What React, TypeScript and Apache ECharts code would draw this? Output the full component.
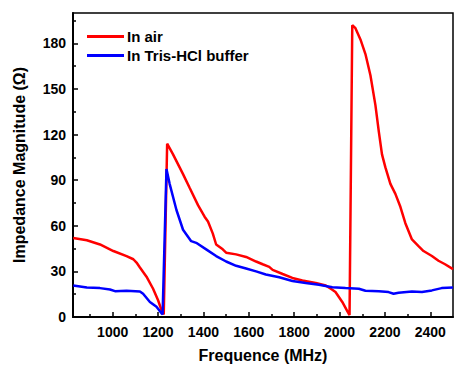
import React, { useEffect, useRef } from "react";
import * as echarts from "echarts";

const xMajorTicks = [1000, 1200, 1400, 1600, 1800, 2000, 2200, 2400];
const xMinorTicks = [900, 1100, 1300, 1500, 1700, 1900, 2100, 2300];
const yMinorTicks = [15, 45, 75, 105, 135, 165, 195];

const airFreq = [826, 886, 944, 1003, 1061, 1091, 1105, 1120, 1149, 1178, 1200, 1215, 1225, 1240, 1266, 1310, 1339, 1376, 1405, 1420, 1441, 1456, 1485, 1500, 1544, 1588, 1632, 1661, 1690, 1705, 1749, 1792, 1836, 1895, 1939, 1968, 1982, 2012, 2034, 2044, 2056, 2070, 2092, 2114, 2136, 2158, 2173, 2187, 2202, 2224, 2246, 2268, 2290, 2319, 2348, 2370, 2407, 2436, 2465, 2500];
const airImp = [52, 50.5, 47.7, 43.4, 40, 38, 35.8, 32.6, 26.5, 18.6, 11, 4.5, 1.7, 114, 107, 94, 85, 73.6, 66, 62.8, 55, 47.7, 44.5, 42.3, 41.2, 39.5, 36.5, 34.7, 33, 31, 28.3, 25.7, 24, 22.4, 20.7, 17.9, 16.4, 9.9, 3.9, 1.3, 192, 190, 182.6, 173, 159, 139.4, 122, 107, 98.4, 87.6, 81, 72.5, 61.7, 51, 46.6, 43.4, 40.1, 37, 34.7, 31.5];

const bufFreq = [826, 886, 944, 988, 1010, 1061, 1120, 1134, 1164, 1193, 1215, 1220, 1237, 1251, 1281, 1310, 1346, 1368, 1412, 1456, 1500, 1544, 1588, 1632, 1675, 1734, 1792, 1851, 1909, 1968, 2026, 2085, 2114, 2173, 2216, 2238, 2260, 2319, 2363, 2407, 2450, 2500];
const bufImp = [20.7, 19.4, 19, 18.1, 17, 17.3, 16.8, 15.3, 9.9, 6.7, 2.4, 1.9, 97.3, 87.6, 70.4, 57.4, 49.9, 48.8, 44.5, 40.1, 36.5, 33.7, 31.9, 30, 28, 26.1, 23.7, 22.4, 21.2, 19.6, 19, 18.6, 17.3, 17, 16.4, 15.3, 16, 16.8, 16.4, 17.5, 19, 19.4];

const FONT = "'Liberation Sans', Arial, sans-serif";

export default function App() {
  const ref = useRef<HTMLDivElement>(null);
  useEffect(() => {
    if (!ref.current) return;
    const chart = echarts.init(ref.current, undefined, { renderer: "svg" });
    const tickLabel = { color: "#000", fontWeight: "bold" as const, fontSize: 14, fontFamily: FONT };
    const tickStyle = { color: "#000", width: 1.5 };
    chart.setOption({
      animation: false,
      backgroundColor: "#fff",
      grid: { left: 73, top: 13, right: 1, bottom: 46, show: true, borderColor: "#000", borderWidth: 1.5, backgroundColor: "transparent" },
      legend: {
        orient: "vertical",
        left: 82,
        top: 24,
        icon: "rect",
        itemWidth: 37,
        itemHeight: 3,
        itemGap: 4,
        textStyle: { color: "#000", fontWeight: "bold", fontSize: 15, fontFamily: FONT, padding: [0, 0, 0, -2] },
        data: ["In air", "In Tris-HCl buffer"],
      },
      xAxis: [
        {
          type: "value",
          min: 825,
          max: 2500,
          position: "bottom",
          axisLine: { show: true, lineStyle: { color: "#000", width: 2 } },
          axisTick: { show: true, inside: true, length: 5, lineStyle: tickStyle, customValues: xMajorTicks },
          axisLabel: { ...tickLabel, margin: 8, customValues: xMajorTicks, formatter: (v: number) => String(v) },
          splitLine: { show: false },
          name: "Frequence (MHz)",
          nameLocation: "middle",
          nameGap: 30,
          nameTextStyle: { color: "#000", fontWeight: "bold", fontSize: 16, fontFamily: FONT },
        },
        {
          type: "value",
          min: 825,
          max: 2500,
          position: "bottom",
          axisLine: { show: false },
          axisTick: { show: true, inside: true, length: 3, lineStyle: tickStyle, customValues: xMinorTicks },
          axisLabel: { show: false },
          splitLine: { show: false },
        },
      ],
      yAxis: [
        {
          type: "value",
          min: 0,
          max: 200,
          interval: 30,
          axisLine: { show: true, lineStyle: { color: "#000", width: 2 } },
          axisTick: { show: true, inside: true, length: 5, lineStyle: tickStyle },
          axisLabel: { ...tickLabel, margin: 7, showMaxLabel: false, formatter: (v: number) => (v > 180 ? "" : String(v)) },
          splitLine: { show: false },
          name: "Impedance Magnitude (Ω)",
          nameLocation: "middle",
          nameGap: 46,
          nameTextStyle: { color: "#000", fontWeight: "bold", fontSize: 16, fontFamily: FONT },
        },
        {
          type: "value",
          min: 0,
          max: 200,
          position: "left",
          axisLine: { show: false },
          axisTick: { show: true, inside: true, length: 3, lineStyle: tickStyle, customValues: yMinorTicks },
          axisLabel: { show: false },
          splitLine: { show: false },
        },
      ],
      series: [
        {
          name: "In air",
          type: "line",
          xAxisIndex: 0,
          yAxisIndex: 0,
          symbol: "none",
          data: airFreq.map((f, i) => [f, airImp[i]]),
          lineStyle: { color: "#ff0000", width: 2.5 },
          itemStyle: { color: "#ff0000" },
          z: 2,
        },
        {
          name: "In Tris-HCl buffer",
          type: "line",
          xAxisIndex: 0,
          yAxisIndex: 0,
          symbol: "none",
          data: bufFreq.map((f, i) => [f, bufImp[i]]),
          lineStyle: { color: "#0000ff", width: 2.5 },
          itemStyle: { color: "#0000ff" },
          z: 3,
        },
      ],
    });
    return () => chart.dispose();
  }, []);
  return <div ref={ref} style={{ width: 454, height: 368, position: "absolute", left: 0, top: 0 }} />;
}
